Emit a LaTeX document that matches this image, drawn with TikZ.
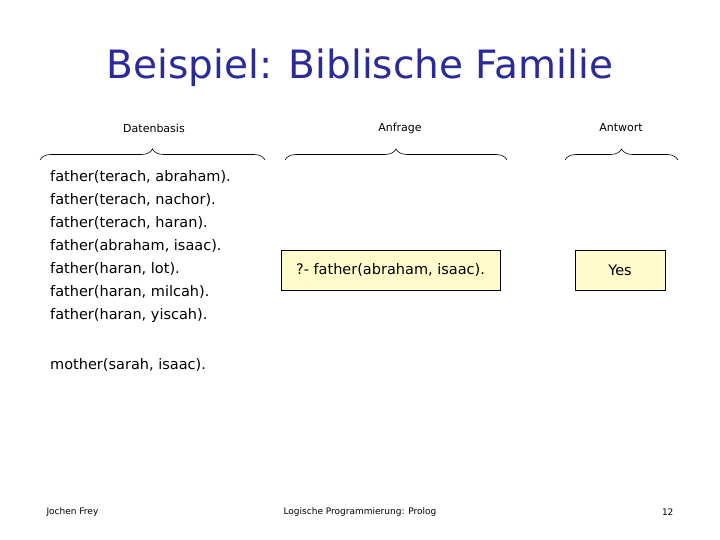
\documentclass[tikz,border=0pt]{standalone}
\usepackage{fontspec}
\setmainfont{DejaVu Sans}
\usetikzlibrary{decorations.pathreplacing}
\begin{document}
\begin{tikzpicture}[x=1pt,y=-1pt,
  lbl/.style={font=\fontsize{11}{13}\selectfont},
  code/.style={font=\fontsize{14.5}{23}\selectfont,align=left,anchor=north west,inner sep=0},
  ans/.style={draw=black,fill=yellow!20,minimum height=40pt,font=\fontsize{14.5}{17}\selectfont},
  br/.style={decorate,decoration={brace,amplitude=11pt},line width=0.6pt},
  foot/.style={font=\fontsize{9}{11}\selectfont}]
\useasboundingbox (0,0) rectangle (720,540);
\node (title) at (360,68) {\color[HTML]{2A2A9A}\fontsize{39}{46}\selectfont Beispiel: Biblische Familie};
\node[lbl] (l1) at (154,128) {Datenbasis};
\node[lbl] (l2) at (400,128) {Anfrage};
\node[lbl] (l3) at (621,128) {Antwort};
\coordinate (b1a) at (40,160); \coordinate (b1b) at (265,160);
\coordinate (b2a) at (285,160); \coordinate (b2b) at (507,160);
\coordinate (b3a) at (565,160); \coordinate (b3b) at (678,160);
\draw[br] (b1a) -- (b1b);
\draw[br] (b2a) -- (b2b);
\draw[br] (b3a) -- (b3b);
\node[code] (db) at (50,170) {father(terach, abraham).\\father(terach, nachor).\\father(terach, haran).\\father(abraham, isaac).\\father(haran, lot).\\father(haran, milcah).\\father(haran, yiscah).};
\node[code] (mo) at (50,358) {mother(sarah, isaac).};
\node[ans,minimum width=219pt] (q) at (390.5,270) {?- father(abraham, isaac).};
\node[ans,minimum width=90pt] (a) at (620,270) {Yes};
\node[foot,anchor=west] (f1) at (43,512) {Jochen Frey};
\node[foot] (f2) at (360,512) {Logische Programmierung: Prolog};
\node[foot,anchor=east] (f3) at (677,512) {12};
\end{tikzpicture}
\end{document}
